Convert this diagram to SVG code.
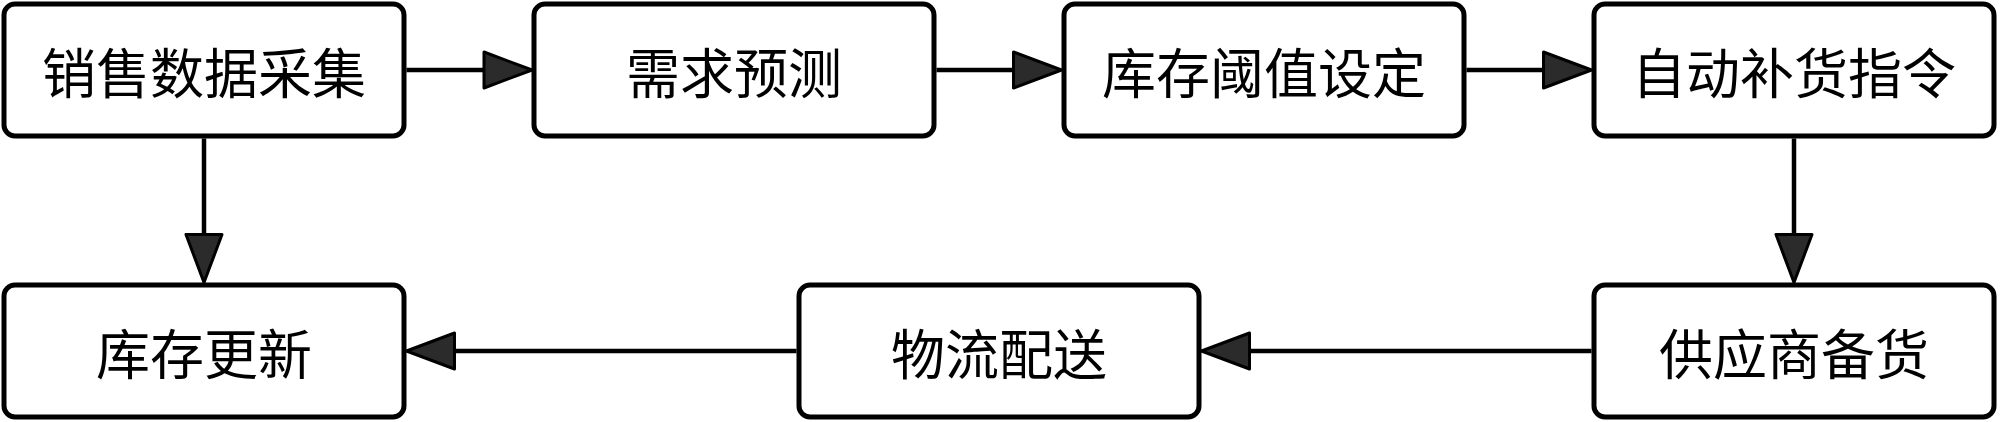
<svg xmlns="http://www.w3.org/2000/svg" width="2000" height="422" viewBox="0 0 2000 422">
<style>
.box{fill:#fff;stroke:#000;stroke-width:5}
.lbl{font-family:"Noto Sans CJK SC","Noto Sans",sans-serif;font-size:54px;fill:#000;text-anchor:middle}
.edge{stroke:#000;stroke-width:4.5;fill:none}
</style>
<defs>
<marker id="arr" markerUnits="userSpaceOnUse" markerWidth="52" markerHeight="40" refX="0" refY="18" orient="auto" overflow="visible">
<path d="M0,0 L48,18 L0,36 Z" fill="#2b2b2b" stroke="#000" stroke-width="3" stroke-linejoin="round"/>
</marker>
</defs>
<rect width="2000" height="422" fill="#fff"/>
<g id="connectors">
<path class="edge" d="M406.5,70 H484" marker-end="url(#arr)"/>
<path class="edge" d="M936.5,70 H1013.5" marker-end="url(#arr)"/>
<path class="edge" d="M1466.5,70 H1543.5" marker-end="url(#arr)"/>
<path class="edge" d="M1794,138.5 V234.5" marker-end="url(#arr)"/>
<path class="edge" d="M1591.5,351 H1249.5" marker-end="url(#arr)"/>
<path class="edge" d="M796.5,351 H454.5" marker-end="url(#arr)"/>
<path class="edge" d="M204,138.5 V234.5" marker-end="url(#arr)"/>
</g>
<g id="n1"><rect class="box" x="4" y="4" width="400" height="132" rx="11"/><text class="lbl" x="204" y="94">销售数据采集</text></g>
<g id="n2"><rect class="box" x="534" y="4" width="400" height="132" rx="11"/><text class="lbl" x="734" y="94">需求预测</text></g>
<g id="n3"><rect class="box" x="1064" y="4" width="400" height="132" rx="11"/><text class="lbl" x="1264" y="94">库存阈值设定</text></g>
<g id="n4"><rect class="box" x="1594" y="4" width="400" height="132" rx="11"/><text class="lbl" x="1794" y="94">自动补货指令</text></g>
<g id="n5"><rect class="box" x="1594" y="285" width="400" height="132" rx="11"/><text class="lbl" x="1794" y="375">供应商备货</text></g>
<g id="n6"><rect class="box" x="799" y="285" width="400" height="132" rx="11"/><text class="lbl" x="999" y="375">物流配送</text></g>
<g id="n7"><rect class="box" x="4" y="285" width="400" height="132" rx="11"/><text class="lbl" x="204" y="375">库存更新</text></g>
</svg>
